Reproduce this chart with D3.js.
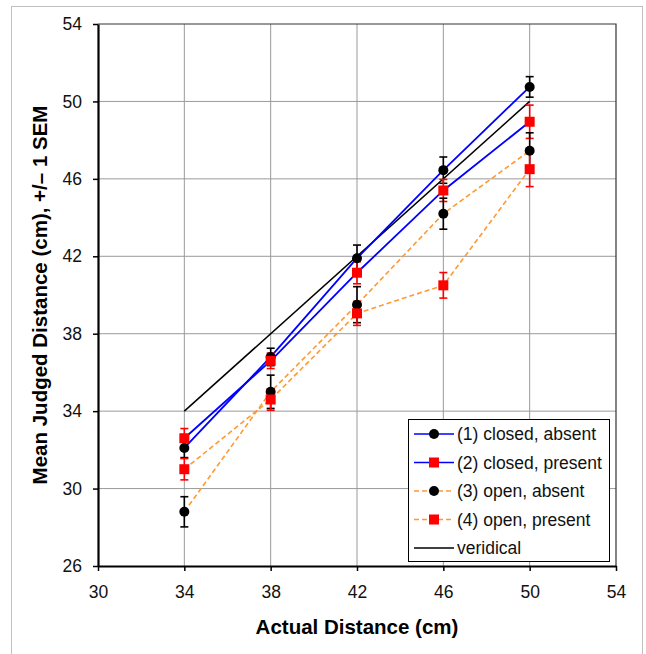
<!DOCTYPE html>
<html>
<head>
<meta charset="utf-8">
<script src="https://cdn.jsdelivr.net/npm/d3@7"></script>
<style>
  body { margin: 0; background: #fff; }
  svg { font-family: "Liberation Sans", Arial, sans-serif; }
</style>
</head>
<body>
<div id="chart"></div>
<script>
// actual distances (cm)
var distances = [34, 38, 42, 46, 50];
// mean judged distance per condition, and SEM
var closedAbsent = [32.1, 36.8, 41.9, 46.45, 50.75];
var closedAbsentSem = [0.5, 0.45, 0.68, 0.68, 0.53];
var closedPresent = [32.6, 36.6, 41.15, 45.4, 48.95];
var closedPresentSem = [0.5, 0.4, 0.57, 0.57, 0.86];
var openAbsent = [28.8, 35.0, 39.5, 44.2, 47.45];
var openAbsentSem = [0.78, 0.86, 0.93, 0.8, 0.93];
var openPresent = [31.0, 34.6, 39.05, 40.5, 46.5];
var openPresentSem = [0.55, 0.55, 0.62, 0.66, 0.9];
var veridical = [34, 50];
var xTicks = [30, 34, 38, 42, 46, 50, 54];
var yTicks = [26, 30, 34, 38, 42, 46, 50, 54];
var legendLabels = ["(1) closed, absent", "(2) closed, present", "(3) open, absent", "(4) open, present", "veridical"];

var width = 646, height = 654;
var pLeft = 98, pRight = 616, pTop = 24, pBottom = 566;

var svg = d3.select("#chart").append("svg")
    .attr("width", width)
    .attr("height", height);

// outer chart frame
svg.append("rect")
    .attr("x", 11.5).attr("y", 6.5)
    .attr("width", 631).attr("height", 660)
    .attr("fill", "none")
    .attr("stroke", "#c0c0c0")
    .attr("stroke-width", 1);

var x = d3.scaleLinear().domain([30, 54]).range([pLeft, pRight]);
var y = d3.scaleLinear().domain([26, 54]).range([pBottom, pTop]);

// gridlines
var grid = svg.append("g");
grid.selectAll(".vg").data(xTicks.slice(1, -1)).enter().append("line")
    .attr("x1", function(d){ return x(d); }).attr("x2", function(d){ return x(d); })
    .attr("y1", pTop).attr("y2", pBottom)
    .style("stroke", "#9a9a9a").style("stroke-width", 1);
grid.selectAll(".hg").data(yTicks.slice(1, -1)).enter().append("line")
    .attr("x1", pLeft).attr("x2", pRight)
    .attr("y1", function(d){ return y(d); }).attr("y2", function(d){ return y(d); })
    .style("stroke", "#9a9a9a").style("stroke-width", 1);

// plot border top & right
svg.append("path")
    .attr("d", "M" + pLeft + "," + pTop + "H" + pRight + "V" + pBottom)
    .attr("fill", "none").attr("stroke", "#333").attr("stroke-width", 1.2);

// axes
var xAxis = svg.append("g")
    .attr("transform", "translate(0," + pBottom + ")")
    .call(d3.axisBottom(x).tickValues(xTicks).tickSize(5).tickPadding(15).tickSizeOuter(0));
var yAxis = svg.append("g")
    .attr("transform", "translate(" + pLeft + ",0)")
    .call(d3.axisLeft(y).tickValues(yTicks).tickSize(5).tickPadding(11).tickSizeOuter(0));
[xAxis, yAxis].forEach(function(a){
    a.select(".domain").attr("stroke", "#000").attr("stroke-width", 2.2);
    a.selectAll(".tick line").attr("stroke", "#000").attr("stroke-width", 1.5);
    a.selectAll(".tick text").attr("fill", "#111")
        .style("font-size", "17.5px").style("font-family", "Liberation Sans, Arial, sans-serif");
});

// axis titles
svg.append("text")
    .attr("x", (pLeft + pRight) / 2).attr("y", 634)
    .attr("text-anchor", "middle")
    .style("font-weight", "bold").style("font-size", "20.5px")
    .text("Actual Distance (cm)");
svg.append("text")
    .attr("transform", "translate(47," + ((pTop + pBottom) / 2) + ") rotate(-90)")
    .attr("text-anchor", "middle")
    .style("font-weight", "bold").style("font-size", "20.5px")
    .text("Mean Judged Distance (cm), +/\u2013 1 SEM");

var series = [
    {vals: closedAbsent, sem: closedAbsentSem, line: "#0000ff", dash: null, marker: "circle"},
    {vals: closedPresent, sem: closedPresentSem, line: "#0000ff", dash: null, marker: "square"},
    {vals: openAbsent, sem: openAbsentSem, line: "#ff9933", dash: "5,3", marker: "circle"},
    {vals: openPresent, sem: openPresentSem, line: "#ff9933", dash: "5,3", marker: "square"}
];

var line = d3.line()
    .x(function(d){ return x(d[0]); })
    .y(function(d){ return y(d[1]); });

// veridical line
svg.append("path")
    .datum(veridical.map(function(v){ return [v, v]; }))
    .attr("d", line)
    .attr("fill", "none").attr("stroke", "#000").attr("stroke-width", 1.5);

series.forEach(function(s){
    var pts = distances.map(function(d, i){ return [d, s.vals[i], s.sem[i]]; });
    svg.append("path").datum(pts)
        .attr("d", line)
        .attr("fill", "none")
        .attr("stroke", s.line)
        .attr("stroke-width", s.dash ? 1.6 : 1.8)
        .attr("stroke-dasharray", s.dash);
});

function drawMarker(g, type, cx, cy) {
    if (type == "circle") {
        g.append("circle").attr("cx", cx).attr("cy", cy).attr("r", 5).attr("fill", "#000");
    } else {
        g.append("rect").attr("x", cx - 5).attr("y", cy - 5)
            .attr("width", 10).attr("height", 10).attr("fill", "#ff0000");
    }
}

series.forEach(function(s){
    var col = s.marker == "circle" ? "#000" : "#ff0000";
    var g = svg.append("g");
    distances.forEach(function(d, i){
        var cx = x(d), y1 = y(s.vals[i] + s.sem[i]), y2 = y(s.vals[i] - s.sem[i]);
        g.append("line").attr("x1", cx).attr("x2", cx).attr("y1", y1).attr("y2", y2)
            .attr("stroke", col).attr("stroke-width", 1.6);
        [y1, y2].forEach(function(yy){
            g.append("line").attr("x1", cx - 4).attr("x2", cx + 4).attr("y1", yy).attr("y2", yy)
                .attr("stroke", col).attr("stroke-width", 1.6);
        });
    });
});

series.forEach(function(s){
    var g = svg.append("g");
    distances.forEach(function(d, i){
        drawMarker(g, s.marker, x(d), y(s.vals[i]));
    });
});

// legend
var lg = svg.append("g").attr("transform", "translate(408,419)");
lg.append("rect").attr("x", 0.5).attr("y", 0.5).attr("width", 201).attr("height", 142)
    .attr("fill", "#fff").attr("stroke", "#000").attr("stroke-width", 1);
var legendItems = series.concat([{line: "#000", dash: null, marker: null}]);
legendItems.forEach(function(s, i){
    var yy = 15 + i * 28.5;
    lg.append("line").attr("x1", 6).attr("x2", 46).attr("y1", yy).attr("y2", yy)
        .attr("stroke", s.line).attr("stroke-width", 1.5).attr("stroke-dasharray", s.dash);
    if (s.marker) drawMarker(lg, s.marker, 26, yy);
    lg.append("text").attr("x", 49).attr("y", yy + 6)
        .style("font-size", "17.5px").attr("fill", "#111")
        .text(legendLabels[i]);
});
</script>
</body>
</html>
